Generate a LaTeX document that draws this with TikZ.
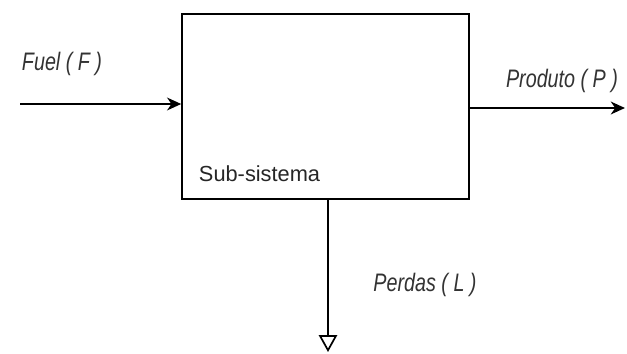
\documentclass[tikz,border=0pt]{standalone}
\usepackage{fontspec}
\setmainfont{Liberation Sans}
\usetikzlibrary{positioning, arrows.meta}

\begin{document}
\begin{tikzpicture}[
    x=0.025cm, y=-0.025cm,
    box/.style={draw, line width=1pt, minimum width=7.175cm,
                minimum height=4.625cm, inner sep=0pt},
    arr/.style={-{Stealth[length=10pt, width=9pt, inset=3pt]}, line width=1.8pt},
    label/.style={font=\fontsize{18}{20}\selectfont\itshape, text=black!80,
                  xscale=0.78, inner sep=0pt},
]
\useasboundingbox (0,0) rectangle (627,354);

\node[box] (sub) at (325.5,106.5) {};
\node[font=\fontsize{15.5}{17}\selectfont, text=black!85, anchor=west] (subname) at (194,174) {Sub-sistema};

% fluxos de entrada e saida
\coordinate (fuel) at (20,104);
\coordinate (prod) at (625,108);
\coordinate (perd) at (328,352);
\draw[arr] (fuel) -- (sub.west |- fuel);
\draw[arr] (sub.east |- prod) -- (prod);
\draw[line width=1.8pt, -{Triangle[open, length=12pt, width=13pt, line width=1.2pt]}]
    (sub.south -| perd) -- (perd);

\node[label] (lfuel) at (62,64) {Fuel ( F )};
\node[label] (lprod) at (562,81) {Produto ( P )};
\node[label] (lperd) at (425,285) {Perdas ( L )};
\end{tikzpicture}
\end{document}
